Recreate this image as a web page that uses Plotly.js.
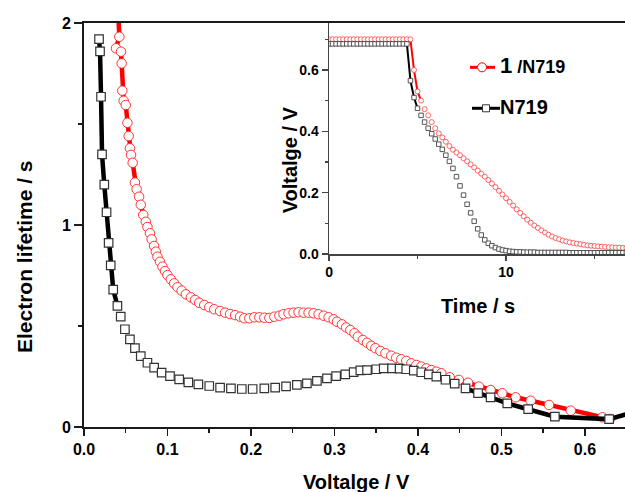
<!DOCTYPE html>
<html>
<head>
<meta charset="utf-8">
<script src="https://cdn.plot.ly/plotly-3.0.1.min.js"></script>
<style>html,body{margin:0;padding:0;background:#fff;}#chart{width:625px;height:492px;}</style>
</head>
<body>
<div id="chart"></div>
<script>
// ---- Main plot: electron lifetime vs voltage ----
const redV = [0.0410,0.0423,0.0383,0.0443,0.0451,0.0459,0.0475,0.0500,0.0520,0.0535,0.0550,0.0563,0.0583,0.0610,0.0630,0.0660,0.0680,0.0710,0.0740,0.0760,0.0790,0.0810,0.0840,0.0860,0.0880,0.0910,0.0940,0.0970,0.1000,0.1040,0.1080,0.1120,0.1170,0.1220,0.1280,0.1330,0.1380,0.1440,0.1500,0.1560,0.1630,0.1690,0.1750,0.1810,0.1870,0.1920,0.1980,0.2040,0.2100,0.2160,0.2220,0.2280,0.2340,0.2390,0.2450,0.2510,0.2570,0.2630,0.2690,0.2750,0.2810,0.2870,0.2930,0.2990,0.3030,0.3090,0.3140,0.3190,0.3240,0.3280,0.3340,0.3390,0.3440,0.3490,0.3550,0.3610,0.3680,0.3740,0.3800,0.3860,0.3920,0.3980,0.4040,0.4100,0.4160,0.4220,0.4280,0.4380,0.4490,0.4600,0.4730,0.4870,0.5010,0.5170,0.5350,0.5570,0.5830,0.6210,0.6300];
const redLife = [2.05,1.932,1.875,1.858,1.80,1.665,1.615,1.594,1.506,1.44,1.38,1.347,1.308,1.21,1.177,1.14,1.10,1.05,1.016,0.99,0.959,0.929,0.896,0.868,0.843,0.818,0.794,0.772,0.752,0.731,0.711,0.692,0.675,0.657,0.642,0.629,0.615,0.604,0.593,0.583,0.574,0.566,0.559,0.554,0.546,0.538,0.538,0.543,0.543,0.541,0.540,0.546,0.551,0.558,0.563,0.566,0.568,0.566,0.566,0.563,0.558,0.551,0.543,0.533,0.521,0.508,0.493,0.480,0.464,0.447,0.431,0.417,0.402,0.390,0.376,0.365,0.353,0.343,0.335,0.327,0.315,0.307,0.299,0.290,0.282,0.274,0.266,0.246,0.233,0.219,0.200,0.183,0.167,0.147,0.130,0.109,0.081,0.048,0.040];

const blackV = [0.0180,0.0192,0.0204,0.0216,0.0243,0.0270,0.0295,0.0320,0.0350,0.0400,0.0440,0.0490,0.0550,0.0610,0.0680,0.0760,0.0840,0.0930,0.1030,0.1140,0.1250,0.1370,0.1500,0.1630,0.1760,0.1890,0.2020,0.2160,0.2290,0.2420,0.2550,0.2670,0.2790,0.2910,0.3020,0.3130,0.3230,0.3310,0.3390,0.3500,0.3590,0.3690,0.3780,0.3860,0.3950,0.4040,0.4130,0.4220,0.4330,0.4440,0.4570,0.4720,0.4870,0.5070,0.5320,0.5640,0.6290,0.6600];
const blackLife = [1.92,1.86,1.635,1.35,1.20,1.063,0.912,0.80,0.68,0.60,0.546,0.484,0.434,0.390,0.351,0.318,0.294,0.269,0.252,0.236,0.221,0.211,0.203,0.195,0.191,0.188,0.188,0.191,0.195,0.201,0.209,0.216,0.228,0.241,0.252,0.261,0.272,0.280,0.282,0.286,0.290,0.290,0.289,0.286,0.279,0.271,0.261,0.249,0.234,0.215,0.191,0.168,0.147,0.117,0.088,0.051,0.039,0.075];

// ---- Inset: open-circuit voltage decay ----
const timeS = [0,0.2,0.4,0.6,0.8,1.0,1.2,1.4,1.6,1.8,2.0,2.2,2.4,2.6,2.8,3.0,3.2,3.4,3.6,3.8,4.0,4.2,4.4,4.6,4.8,5.0,5.2,5.4,5.6,5.8,6.0,6.2,6.4,6.6,6.8,7.0,7.2,7.4,7.6,7.8,8.0,8.2,8.4,8.6,8.8,9.0,9.2,9.4,9.6,9.8,10.0,10.2,10.4,10.6,10.8,11.0,11.2,11.4,11.6,11.8,12.0,12.2,12.4,12.6,12.8,13.0,13.2,13.4,13.6,13.8,14.0,14.2,14.4,14.6,14.8,15.0,15.2,15.4,15.6,15.8,16.0,16.2,16.4,16.6,16.8,17.0];
const redVoc = [0.70,0.70,0.70,0.70,0.70,0.70,0.70,0.70,0.70,0.70,0.70,0.70,0.70,0.70,0.70,0.70,0.70,0.70,0.70,0.70,0.70,0.70,0.70,0.70,0.60,0.53,0.50,0.472,0.452,0.43,0.41,0.393,0.38,0.366,0.352,0.34,0.331,0.322,0.312,0.302,0.292,0.282,0.272,0.262,0.252,0.241,0.230,0.218,0.206,0.194,0.182,0.170,0.158,0.146,0.134,0.123,0.112,0.102,0.093,0.085,0.077,0.070,0.063,0.057,0.052,0.048,0.044,0.041,0.038,0.036,0.034,0.032,0.030,0.028,0.027,0.026,0.025,0.024,0.023,0.022,0.022,0.021,0.021,0.020,0.020,0.020];
const blackVoc = [0.685,0.685,0.685,0.685,0.685,0.685,0.685,0.685,0.685,0.685,0.685,0.685,0.685,0.685,0.685,0.685,0.685,0.685,0.685,0.685,0.685,0.685,0.685,0.565,0.51,0.475,0.452,0.43,0.41,0.392,0.375,0.358,0.341,0.322,0.302,0.279,0.252,0.222,0.192,0.162,0.134,0.107,0.082,0.062,0.046,0.035,0.027,0.021,0.016,0.013,0.011,0.009,0.008,0.007,0.007,0.006,0.006,0.006,0.006,0.005,0.005,0.005,0.005,0.005,0.005,0.005,0.005,0.005,0.004,0.004,0.004,0.004,0.004,0.004,0.004,0.004,0.004,0.004,0.004,0.004,0.004,0.004,0.004,0.004,0.004,0.004];

// The thick connecting lines are only visible where the markers are sparse:
// build line segments from the data, breaking with null outside the kept ranges.
function segments(xs, ys, keep) {
  const sx = [], sy = [];
  let prevKept = false;
  xs.forEach((x, i) => {
    const k = keep(x);
    if (k) {
      if (!prevKept && sx.length) { sx.push(null); sy.push(null); }
      sx.push(x); sy.push(ys[i]);
    }
    prevKept = k;
  });
  return [sx, sy];
}
const [redLX, redLY] = segments(redV, redLife, v => v <= 0.08 || v >= 0.435);
const [blkLX, blkLY] = segments(blackV, blackLife, v => v <= 0.0405 || v >= 0.455);
const [redIX, redIY] = segments(timeS, redVoc, t => t >= 4.5 && t <= 5.3);
const [blkIX, blkIY] = segments(timeS, blackVoc, t => t >= 4.3 && t <= 5.1);

const RED = '#ff0000';
const FONT = 'Liberation Sans, Arial, sans-serif';
const AX = '#1a1a1a';

const traces = [
  {x: redLX, y: redLY, mode: 'lines', xaxis: 'x', yaxis: 'y', connectgaps: false,
   line: {color: RED, width: 4.5}},
  {x: redV, y: redLife, mode: 'markers', xaxis: 'x', yaxis: 'y',
   marker: {symbol: 'circle', size: 9.5, color: '#ffffff', line: {color: '#ff2020', width: 0.9}}},
  {x: blkLX, y: blkLY, mode: 'lines', xaxis: 'x', yaxis: 'y', connectgaps: false,
   line: {color: '#000000', width: 4.5}},
  {x: blackV, y: blackLife, mode: 'markers', xaxis: 'x', yaxis: 'y',
   marker: {symbol: 'square', size: 8.5, color: '#ffffff', line: {color: '#333333', width: 1.2}}},
  {x: redIX, y: redIY, mode: 'lines', xaxis: 'x2', yaxis: 'y2', connectgaps: false,
   line: {color: RED, width: 2}},
  {x: timeS, y: redVoc, mode: 'markers', xaxis: 'x2', yaxis: 'y2',
   marker: {symbol: 'circle', size: 5, color: '#ffffff', line: {color: '#ff4040', width: 0.8}}},
  {x: blkIX, y: blkIY, mode: 'lines', xaxis: 'x2', yaxis: 'y2', connectgaps: false,
   line: {color: '#000000', width: 2}},
  {x: timeS, y: blackVoc, mode: 'markers', xaxis: 'x2', yaxis: 'y2',
   marker: {symbol: 'square', size: 4.5, color: '#ffffff', line: {color: '#444444', width: 0.9}}}
];

const layout = {
  width: 625, height: 492,
  margin: {l: 84, r: 0, t: 23, b: 65},
  paper_bgcolor: '#ffffff', plot_bgcolor: '#ffffff',
  showlegend: false,
  font: {family: FONT, color: '#000', weight: 'bold'},
  xaxis: {
    domain: [0, 1], range: [0, 0.648], anchor: 'y',
    showline: true, linecolor: AX, linewidth: 2, mirror: true,
    showgrid: false, zeroline: false,
    ticks: 'outside', ticklen: 7, tickwidth: 1.5, tickcolor: AX,
    dtick: 0.1, tick0: 0, tickformat: '.1f',
    tickfont: {family: FONT, size: 16, weight: 'bold', color: '#000'},
    minor: {dtick: 0.05, ticks: 'outside', ticklen: 4, tickwidth: 1.5, tickcolor: AX, showgrid: false}
  },
  yaxis: {
    domain: [0, 1], range: [0, 2], anchor: 'x',
    showline: true, linecolor: AX, linewidth: 2, mirror: false,
    showgrid: false, zeroline: false,
    ticks: 'outside', ticklen: 8, tickwidth: 1.5, tickcolor: AX,
    dtick: 1, tick0: 0,
    tickfont: {family: FONT, size: 16, weight: 'bold', color: '#000'},
    minor: {dtick: 0.5, ticks: 'outside', ticklen: 4, tickwidth: 1.5, tickcolor: AX, showgrid: false}
  },
  xaxis2: {
    domain: [0.4529, 1], range: [0, 16.72], anchor: 'y2',
    showline: true, linecolor: '#444', linewidth: 1.5,
    showgrid: false, zeroline: false,
    ticks: 'outside', ticklen: 5, tickwidth: 1.2, tickcolor: '#444',
    dtick: 10, tick0: 0,
    tickfont: {family: FONT, size: 14, weight: 'bold', color: '#000'},
    minor: {dtick: 5, ticks: 'outside', ticklen: 3, tickwidth: 1.2, tickcolor: '#444', showgrid: false}
  },
  yaxis2: {
    domain: [0.4282, 1], range: [0, 0.753], anchor: 'x2',
    showline: true, linecolor: '#444', linewidth: 1.5,
    showgrid: false, zeroline: false,
    ticks: 'outside', ticklen: 6, tickwidth: 1.2, tickcolor: '#444',
    dtick: 0.2, tick0: 0, tickformat: '.1f',
    tickfont: {family: FONT, size: 14, weight: 'bold', color: '#000'},
    minor: {dtick: 0.1, ticks: 'outside', ticklen: 3, tickwidth: 1.2, tickcolor: '#444', showgrid: false}
  },
  annotations: [
    {text: 'Voltalge / V', xref: 'paper', yref: 'paper', x: 0.5028, y: -0.137, xanchor: 'center', yanchor: 'middle', showarrow: false,
     font: {family: FONT, size: 20, weight: 'bold', color: '#000'}},
    {text: 'Electron lifetime / s', xref: 'paper', yref: 'paper', x: -0.111, y: 0.423, xanchor: 'center', yanchor: 'middle', textangle: -90, showarrow: false,
     font: {family: FONT, size: 21, weight: 'bold', color: '#000'}},
    {text: 'Voltalge / V', xref: 'paper', yref: 'paper', x: 0.3808, y: 0.66, xanchor: 'center', yanchor: 'middle', textangle: -90, showarrow: false,
     font: {family: FONT, size: 20, weight: 'bold', color: '#000'}},
    {text: 'Time / s', xref: 'paper', yref: 'paper', x: 0.728, y: 0.2995, xanchor: 'center', yanchor: 'middle', showarrow: false,
     font: {family: FONT, size: 20, weight: 'bold', color: '#000'}},
    {text: '<span style="font-size:22px">1</span> /N719', xref: 'paper', yref: 'paper', x: 0.766, y: 0.8936, xanchor: 'left', yanchor: 'middle', showarrow: false,
     font: {family: FONT, size: 18, weight: 'bold', color: '#000'}},
    {text: 'N719', xref: 'paper', yref: 'paper', x: 0.766, y: 0.7933, xanchor: 'left', yanchor: 'middle', showarrow: false,
     font: {family: FONT, size: 20, weight: 'bold', color: '#000'}}
  ],
  shapes: [
    {type: 'line', xref: 'paper', yref: 'paper', x0: 0.7135, x1: 0.7597, y0: 0.8903, y1: 0.8903, line: {color: RED, width: 3}},
    {type: 'circle', xref: 'paper', yref: 'paper', xsizemode: 'pixel', ysizemode: 'pixel', xanchor: 0.7357, yanchor: 0.8903,
     x0: -4.5, x1: 4.5, y0: -4.5, y1: 4.5, fillcolor: '#ffffff', line: {color: RED, width: 1}},
    {type: 'line', xref: 'paper', yref: 'paper', x0: 0.7172, x1: 0.769, y0: 0.7889, y1: 0.7889, line: {color: '#000', width: 3}},
    {type: 'rect', xref: 'paper', yref: 'paper', xsizemode: 'pixel', ysizemode: 'pixel', xanchor: 0.7431, yanchor: 0.7889,
     x0: -3.5, x1: 3.5, y0: -3.5, y1: 3.5, fillcolor: '#ffffff', line: {color: '#333', width: 1}}
  ]
};

Plotly.newPlot('chart', traces, layout, {staticPlot: true, displayModeBar: false});
</script>
</body>
</html>
